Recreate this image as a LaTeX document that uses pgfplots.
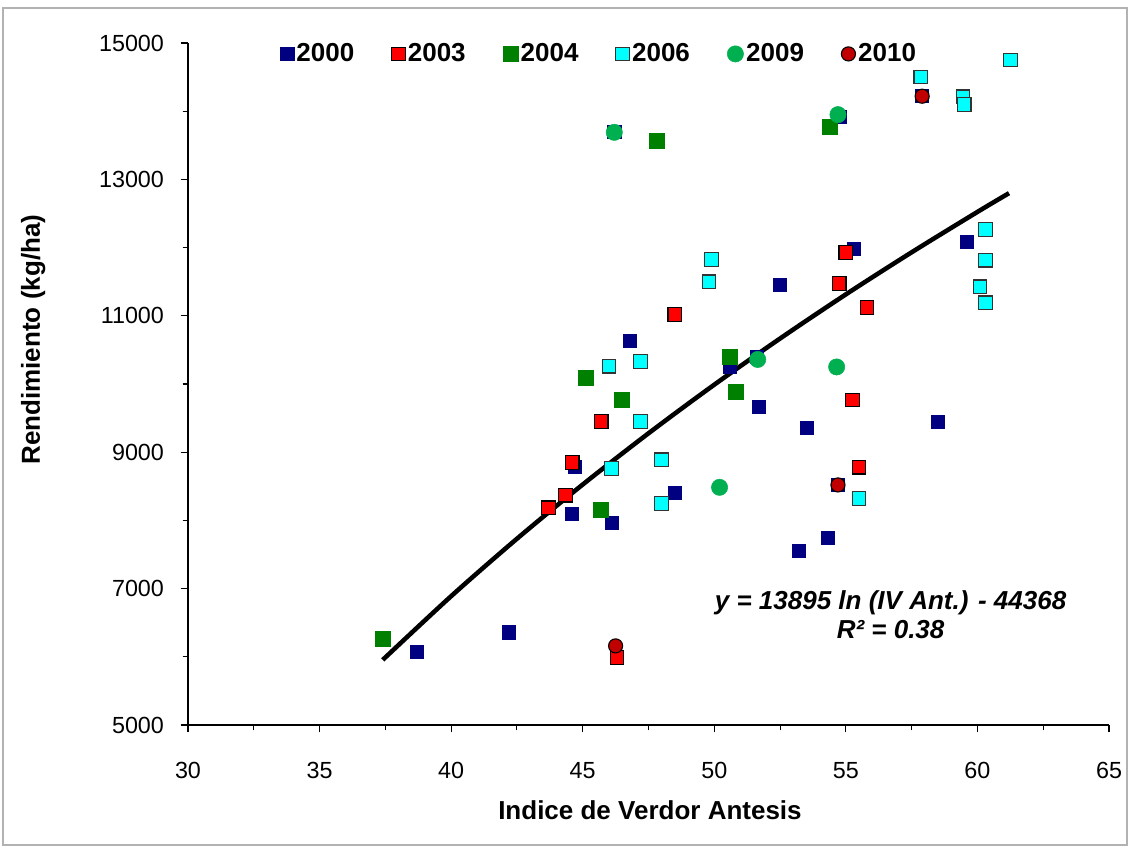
\documentclass[border=0pt]{standalone}
\usepackage{fontspec}
\setmainfont{Liberation Sans}
\usepackage{pgfplots}
\pgfplotsset{compat=1.18}

\definecolor{cnavy}{RGB}{0,0,128}
\definecolor{cred}{RGB}{255,0,0}
\definecolor{cgreen}{RGB}{0,128,0}
\definecolor{ccyan}{RGB}{0,255,255}
\definecolor{clgreen}{RGB}{0,176,80}
\definecolor{cdred}{RGB}{192,0,0}

\begin{document}
\begin{tikzpicture}
\useasboundingbox (-141pt,-91.5pt) rectangle (706.5pt,543.75pt);
\draw[gray!60, line width=0.8pt] (-138.75pt,-90pt) rectangle (704.25pt,537.75pt);
\begin{axis}[
    at={(0,0)}, anchor=south west,
    width=690.75pt, height=511.5pt, scale only axis,
    xmin=30, xmax=65, ymin=5000, ymax=15000,
    xtick={30,35,...,65},
    ytick={5000,7000,...,15000},
    scaled y ticks=false,
    minor x tick num=1, minor y tick num=1,
    axis x line*=bottom, axis y line*=left,
    axis line style={line width=0.9pt},
    tick align=outside,
    major tick length=5.5pt, minor tick length=4pt,
    every tick/.style={black, line width=0.8pt},
    /pgf/number format/assume math mode=true,
    /pgf/number format/set thousands separator={},
    tick label style={font=\fontsize{17.5}{20}\selectfont},
    every x tick label/.append style={yshift=-19pt},
    every y tick label/.append style={xshift=-9pt},
    xlabel={Indice de Verdor Antesis},
    ylabel={Rendimiento (kg/ha)},
    every axis x label/.style={at={(axis description cs:0.5016,-0.1246)}, anchor=center,
        font=\bfseries\fontsize{19.5}{22}\selectfont},
    every axis y label/.style={at={(axis description cs:-0.168,0.565)}, rotate=90, anchor=center,
        font=\bfseries\fontsize{19.5}{22}\selectfont},
    legend columns=6,
    legend style={at={(axis description cs:0.447,0.984)}, anchor=center,
        draw=none, fill=none, font=\bfseries\fontsize{19.5}{22}\selectfont,
        /tikz/every even column/.append style={column sep=26pt}},
    legend image code/.code={\draw[#1] plot coordinates {(0pt,0pt)};},
]
% 2000
\addplot[only marks, mark=square*, mark size=4.9pt, mark options={fill=cnavy, draw=cnavy}] coordinates {
(38.7,6070) (42.2,6360) (44.6,8100) (44.7,8790) (46.1,7960) (46.2,13700)
(46.8,10630) (48.5,8400) (50.6,10250) (51.6,10400) (51.7,9670) (52.5,11460)
(53.2,7560) (53.5,9365) (54.3,7740) (54.7,8520) (54.75,13920) (55.3,11980)
(57.9,14220) (58.5,9450) (59.6,12080)
};
\addlegendentry{2000}
% 2003
\addplot[only marks, mark=square*, mark size=5.1pt, mark options={fill=cred, draw=black, line width=0.9pt}] coordinates {
(43.7,8185) (44.35,8370) (44.6,8850) (45.7,9450) (46.3,5990) (48.5,11020)
(54.75,11475) (55.0,11930) (55.25,9765) (55.5,8780) (55.8,11120)
};
\addlegendentry{2003}
% 2004
\addplot[only marks, mark=square*, mark size=5.6pt, mark options={fill=cgreen, draw=cgreen}] coordinates {
(37.4,6270) (45.1,10090) (45.7,8150) (46.5,9765) (47.8,13565) (50.6,10400)
(50.8,9890) (54.4,13770)
};
\addlegendentry{2004}
% 2006
\addplot[only marks, mark=square*, mark size=5.1pt, mark options={fill=ccyan, draw=black!80, line width=0.9pt}] coordinates {
(46.0,10260) (46.1,8760) (47.2,10330) (47.2,9450) (48.0,8890) (48.0,8250)
(49.8,11500) (49.9,11825) (55.5,8320) (57.85,14500) (59.45,14210) (59.5,14100)
(60.1,11425) (60.3,12265) (60.3,11815) (60.3,11190) (61.25,14750)
};
\addlegendentry{2006}
% 2009
\addplot[only marks, mark=*, mark size=6.1pt, mark options={fill=clgreen, draw=clgreen}] coordinates {
(46.2,13690) (50.2,8485) (51.65,10360) (54.65,10250) (54.7,13950)
};
\addlegendentry{2009}
% 2010
\addplot[only marks, mark=*, mark size=5.3pt, mark options={fill=cdred, draw=black, line width=0.8pt}] coordinates {
(46.25,6160) (54.7,8520) (57.9,14220)
};
\addlegendentry{2010}
% logarithmic trend line, y = 13895 ln(x) - 44368
\addplot[black, line width=3.4pt, smooth, no marks, forget plot] coordinates {
(37.4,5955) (40,6889) (42.5,7731) (45,8526) (47.5,9277) (50,9990)
(52.5,10667) (55,11314) (57.5,11931) (60,12523) (61.2,12798)
};
\node[font=\bfseries\itshape\fontsize{19.5}{21.75}\selectfont, align=center]
    at (axis cs:56.7,6620) {y = 13895 ln (IV Ant.) - 44368\\R² = 0.38};
\end{axis}
\end{tikzpicture}
\end{document}
